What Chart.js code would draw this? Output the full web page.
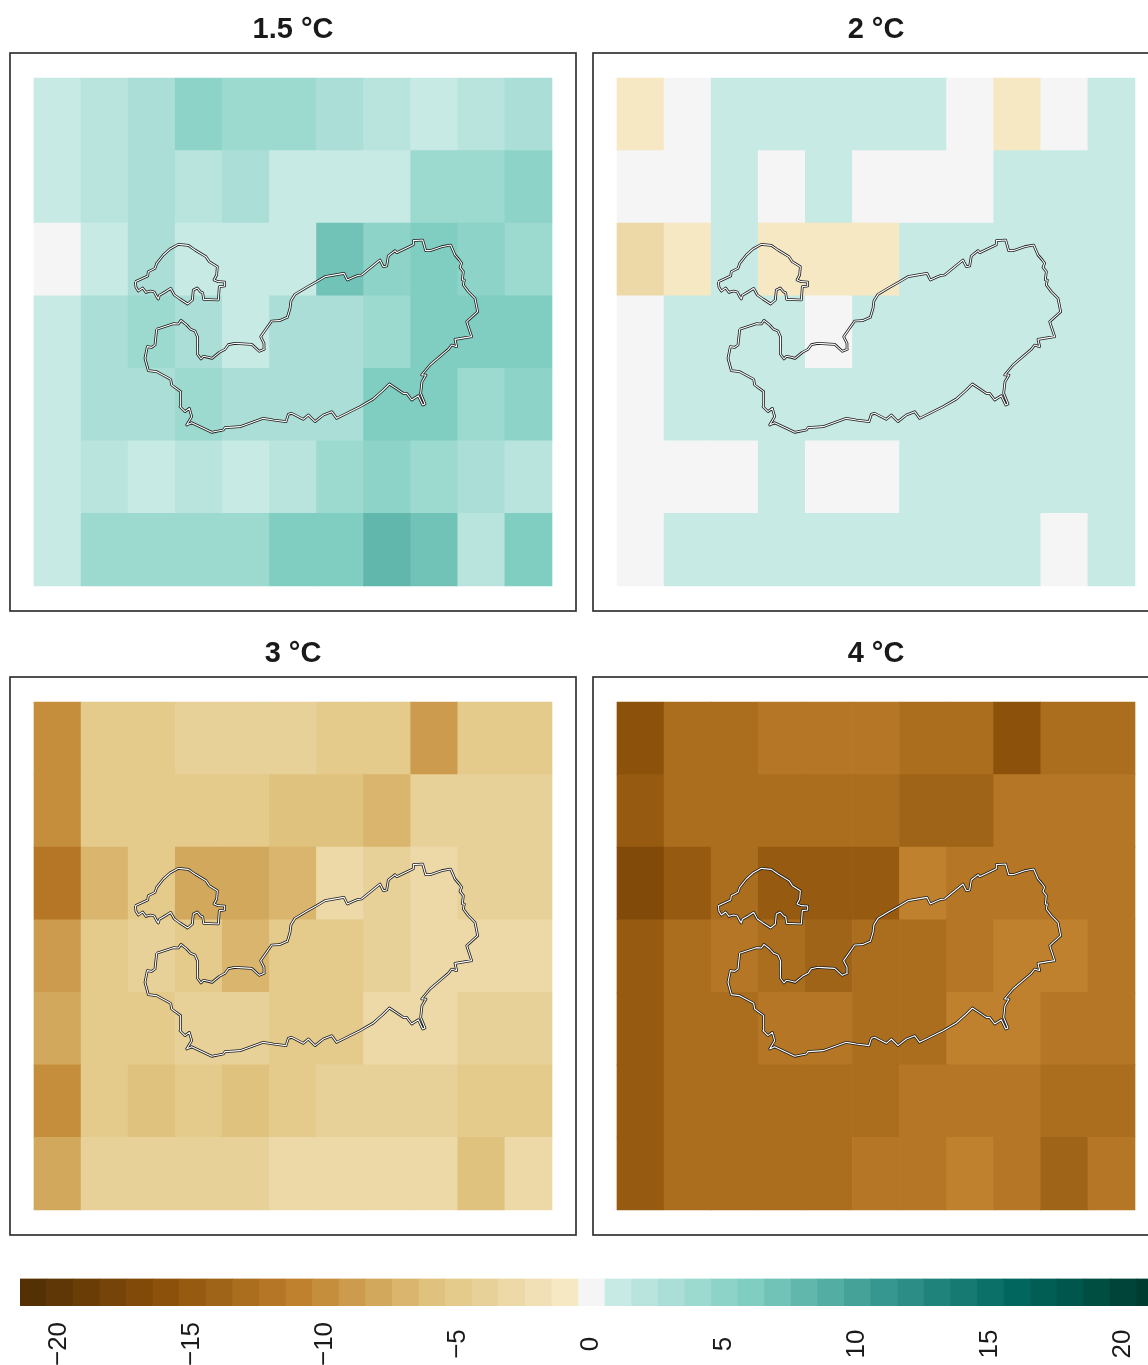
<!DOCTYPE html>
<html><head><meta charset="utf-8">
<script src="https://cdn.jsdelivr.net/npm/chart.js@4"></script>
<style>
html,body{margin:0;padding:0;width:1148px;height:1365px;overflow:hidden;background:#fff}
canvas{position:absolute;display:block}
</style></head><body>
<canvas id="p1" width="570" height="611" style="left:8px;top:2px"></canvas>
<canvas id="p2" width="570" height="611" style="left:591px;top:2px"></canvas>
<canvas id="p3" width="570" height="611" style="left:8px;top:626px"></canvas>
<canvas id="p4" width="570" height="611" style="left:591px;top:626px"></canvas>
<canvas id="bar" width="1148" height="95" style="left:0;top:1270px"></canvas>
<script>
// Colour bins from -21 to 21
const palette = ['#543005','#5f3706','#6a3d07','#764408','#814a09','#8c510a','#965b11','#a06418','#ab6e1f','#b57726','#bf812d',
 '#c58e3d','#cc9b4d','#d2a85d','#d9b56d','#dfc27d','#e4ca8b','#e8d199','#edd9a7','#f1e0b5','#f6e8c3','#f5f5f5',
 '#c7eae5','#b9e4de','#abded7','#9cd9cf','#8ed3c8','#80cdc1','#71c2b7','#62b7ad','#53ada3','#44a299','#35978f',
 '#2b8d85','#20837b','#167a72','#0b7068','#01665e','#015e55','#00554c','#004d42','#004439','#003c30'];
const binValues = [-21,-20,-19,-18,-17,-16,-15,-14,-13,-12,-11,-10,-9,-8,-7,-6,-5,-4,-3,-2,-1,0,1,2,3,4,5,6,7,8,9,10,11,12,13,14,15,16,17,18,19,20,21];
const colorbarTicks = [-20,-15,-10,-5,0,5,10,15,20];

const titles = ['1.5 °C','2 °C','3 °C','4 °C'];
const grid15 = [
 [1,2,3,5,4,4,3,2,1,2,3],
 [1,2,3,2,3,1,1,1,4,4,5],
 [0,1,3,1,1,1,7,5,6,5,4],
 [1,3,4,3,1,3,3,4,6,6,6],
 [1,3,3,4,3,3,3,6,6,4,5],
 [1,2,1,2,1,2,4,5,4,3,2],
 [1,4,4,4,4,6,6,8,7,2,6]];
const grid2 = [
 [-1,0,1,1,1,1,1,0,-1,0,1],
 [0,0,1,0,1,0,0,0,1,1,1],
 [-3,-1,1,-1,-1,-1,1,1,1,1,1],
 [0,1,1,1,0,1,1,1,1,1,1],
 [0,1,1,1,1,1,1,1,1,1,1],
 [0,0,0,1,0,0,1,1,1,1,1],
 [0,1,1,1,1,1,1,1,1,0,1]];
const grid3 = [
 [-10,-5,-5,-4,-4,-4,-5,-5,-9,-5,-5],
 [-10,-5,-5,-5,-5,-6,-6,-7,-4,-4,-4],
 [-12,-7,-5,-8,-8,-7,-3,-4,-3,-4,-4],
 [-9,-5,-4,-5,-7,-5,-5,-4,-3,-3,-3],
 [-8,-5,-5,-4,-4,-5,-5,-3,-3,-4,-4],
 [-10,-5,-6,-5,-6,-5,-4,-4,-4,-5,-5],
 [-8,-4,-4,-4,-4,-3,-3,-3,-3,-6,-3]];
const grid4 = [
 [-16,-13,-13,-12,-12,-12,-13,-13,-16,-13,-13],
 [-15,-13,-13,-13,-13,-13,-14,-14,-12,-12,-12],
 [-17,-15,-13,-15,-15,-15,-11,-12,-12,-12,-12],
 [-15,-13,-12,-13,-14,-13,-13,-12,-11,-11,-12],
 [-15,-13,-13,-12,-12,-13,-13,-11,-11,-12,-12],
 [-15,-13,-13,-13,-13,-13,-12,-12,-12,-13,-13],
 [-15,-13,-13,-13,-13,-12,-12,-11,-12,-14,-12]];
const grids = [grid15,grid2,grid3,grid4];

// Region outlines in map units
const northLoopE = [46,48,55,68,78,92,103,110,115,118,135,152,163,180,203,217,220,232,241,248,251,295,298,314,314,295,282,290,292,268,258,225,205,175,150,130,110,105,85,83,46];
const northLoopN = [155,172,183,174,187,183,186,200,207,196,186,175,195,207,222,210,180,174,185,188,208,210,170,168,156,155,150,135,110,95,80,60,46,43,57,75,100,115,125,138,155];
const mainE = [110,160,175,183,200,212,225,233,232,232,243,250,265,276,298,315,325,345,395,418,433,432,422,427,455,478,502,510,513,525,560,590,615,672,682,700,715,725,780,790,800,805,825,830,880,880,908,917,930,965,992,1005,1018,1025,1020,1030,1027,1033,1030,1045,1065,1073,1040,1055,1005,1010,995,985,930,905,918,906,902,915,908,895,875,860,850,828,808,790,760,720,650,635,610,585,565,550,515,505,498,460,430,360,315,310,275,215,200,215,208,195,180,182,155,152,110,85,75,82,95,105,110];
const mainN = [298,281,282,271,285,298,303,322,350,372,387,379,382,385,367,358,344,340,343,364,358,340,320,313,273,272,262,235,212,193,172,155,140,130,150,142,136,135,90,110,108,78,62,68,44,32,30,62,62,50,45,75,90,100,112,125,150,150,165,185,205,245,275,320,328,350,345,358,405,435,435,455,490,522,525,497,510,490,490,475,462,480,507,530,565,545,555,575,555,568,550,553,575,570,565,590,593,600,607,578,585,560,535,545,530,485,465,448,425,422,385,350,352,345,298];

// Map extent of the panel frame and of the grid
const frameE = [-330,1368], frameN = [-531,1143];
const gridE0 = -258, gridN0 = -456, cellE = 141.27, cellN = 217.71;

const colorOf = v => palette[binValues.indexOf(v)];
const framePlugin = {id:'frame', afterDraw(c){
  const a=c.chartArea, x=c.ctx; x.save(); x.strokeStyle='#333333'; x.lineWidth=1.7;
  x.strokeRect(a.left,a.top,a.right-a.left,a.bottom-a.top); x.restore();
}};
const ring = (e,n) => e.map((v,i)=>({x:v,y:n[i]}));

['p1','p2','p3','p4'].forEach((id,k)=>{
  const cells=[], colors=[];
  grids[k].forEach((row,r)=>row.forEach((v,c)=>{
    cells.push({x:gridE0+(c+.5)*cellE, y:[gridN0+r*cellN, gridN0+(r+1)*cellN]});
    colors.push(colorOf(v));
  }));
  const line=(e,n,color,w,o)=>({type:'line',data:ring(e,n),borderColor:color,borderWidth:w,pointRadius:0,tension:0,fill:false,order:o,borderJoinStyle:'round'});
  new Chart(document.getElementById(id),{
    type:'bar',
    data:{datasets:[
      line(northLoopE,northLoopN,'#ffffff',1.1,1),
      line(mainE,mainN,'#ffffff',1.1,1),
      line(northLoopE,northLoopN,'#1a1a1a',2.7,2),
      line(mainE,mainN,'#1a1a1a',2.7,2),
      {type:'bar',data:cells,backgroundColor:colors,barPercentage:1,categoryPercentage:1,borderWidth:0,order:3}
    ]},
    options:{
      responsive:false,animation:false,
      layout:{padding:{left:2,right:2,top:0,bottom:2}},
      plugins:{legend:{display:false},tooltip:{enabled:false},
        title:{display:true,text:titles[k],color:'#1a1a1a',font:{family:'"Liberation Sans",Arial,sans-serif',size:29,weight:'bold',lineHeight:1.2},padding:{top:10.6,bottom:5.6}}},
      scales:{
        x:{type:'linear',display:false,offset:false,min:frameE[0],max:frameE[1],
          afterBuildTicks(s){s.ticks=grids[k][0].map((v,c)=>({value:gridE0+(c+.5)*cellE}));}},
        y:{type:'linear',display:false,reverse:true,min:frameN[0],max:frameN[1]}
      }
    },
    plugins:[framePlugin]
  });
});

// Colour bar
new Chart(document.getElementById('bar'),{
  type:'bar',
  data:{datasets:[{data:binValues.map(v=>({x:v,y:[0,1]})),backgroundColor:binValues.map(colorOf),barPercentage:1,categoryPercentage:1,borderWidth:0}]},
  options:{
    responsive:false,animation:false,
    layout:{padding:{left:20,right:0,top:8.5,bottom:0}},
    plugins:{legend:{display:false},tooltip:{enabled:false}},
    scales:{
      x:{type:'linear',offset:false,min:-21.5,max:20.92,
        grid:{display:false},border:{display:false},
        afterBuildTicks(s){s.ticks=colorbarTicks.map(v=>({value:v}));},
        afterFit(s){s.height=59;s.paddingLeft=0;s.paddingRight=0;},
        ticks:{autoSkip:false,minRotation:90,maxRotation:90,color:'#1a1a1a',padding:0,
          font:{family:'"Liberation Sans",Arial,sans-serif',size:26},
          callback:v=>String(v).replace('-','\u2212')}},
      y:{display:false,min:0,max:1}
    }
  },
  plugins:[{id:'centreLabels',beforeDraw(c){
    const s=c.scales.x;
    s.getLabelItems().forEach((it,i)=>{
      it.options.textAlign='center';
      it.options.textBaseline='middle';
      it.options.translation[0]=s.getPixelForTick(i);
      it.options.translation[1]=1344-1270;
      it.textOffset=-1;
    });
  }}]
});
</script>
</body></html>
